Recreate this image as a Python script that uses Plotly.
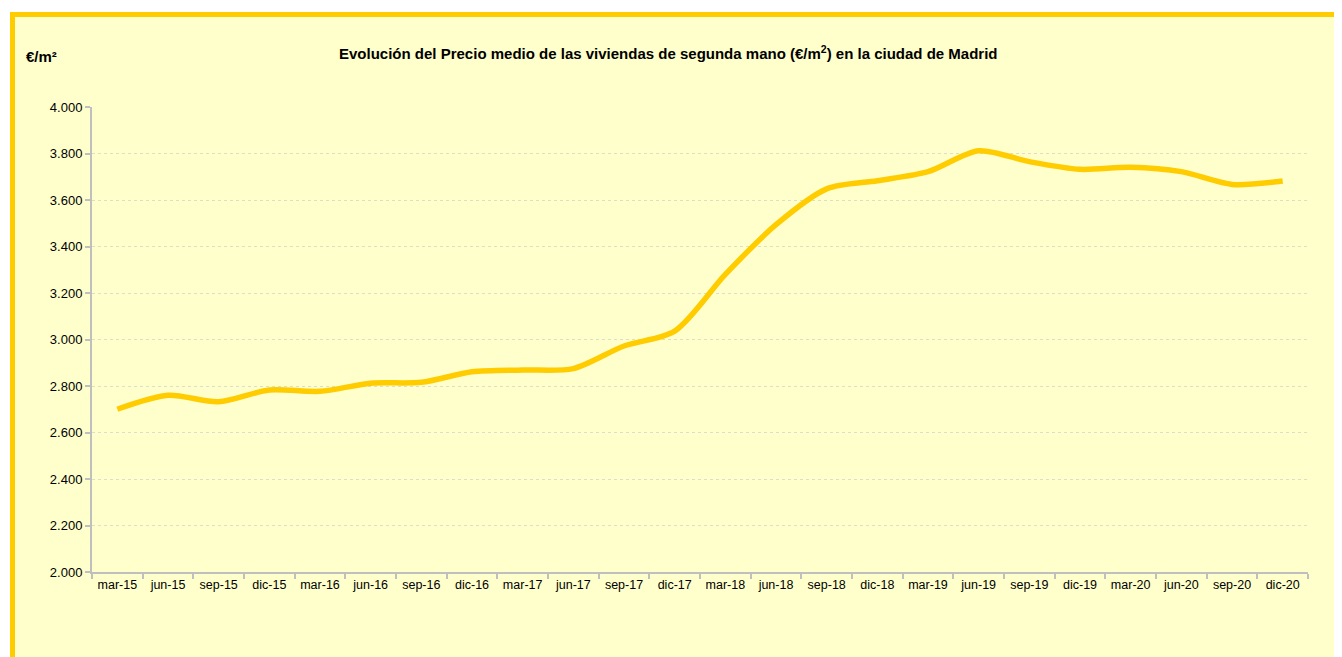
import plotly.graph_objects as go

categories = ["mar-15", "jun-15", "sep-15", "dic-15", "mar-16", "jun-16", "sep-16", "dic-16",
              "mar-17", "jun-17", "sep-17", "dic-17", "mar-18", "jun-18", "sep-18", "dic-18",
              "mar-19", "jun-19", "sep-19", "dic-19", "mar-20", "jun-20", "sep-20", "dic-20"]
precio = [2700, 2760, 2732, 2783, 2777, 2812, 2816, 2861, 2869, 2875, 2972, 3036,
          3280, 3494, 3648, 3683, 3722, 3812, 3765, 3732, 3741, 3722, 3667, 3682]
y_ticks = [2000, 2200, 2400, 2600, 2800, 3000, 3200, 3400, 3600, 3800, 4000]

OFF = 8  # page body margin
W, H = 1342 - OFF, 657 - OFF
# plot area edges in page pixels, converted to figure pixels
L, R, T, B = 92 - OFF, 1308 - OFF, 107 - OFF, 572 - OFF


def px(x):
    return (x - OFF - L) / (R - L)


def py(y):
    return (B - (y - OFF)) / (B - T)


fig = go.Figure()
fig.add_trace(go.Scatter(
    x=categories, y=precio, mode="lines",
    line=dict(color="#FFCC00", width=5.5, shape="spline", smoothing=0.8),
    hoverinfo="x+y", showlegend=False,
))

font = "Liberation Sans, Arial, sans-serif"
fig.update_layout(
    width=W, height=H,
    margin=dict(l=L, r=W - R, t=T, b=H - B, pad=0),
    paper_bgcolor="white",
    plot_bgcolor="rgba(0,0,0,0)",
    separators=",.",
    font=dict(family=font, size=12, color="#000000"),
    shapes=[dict(type="rect", xref="paper", yref="paper",
                 x0=px(12.5), x1=px(1420), y0=py(740), y1=py(14.5),
                 fillcolor="#FFFFCC", line=dict(color="#FFCC00", width=5),
                 layer="below")],
    annotations=[
        dict(text="<b>Evolución del Precio medio de las viviendas de segunda mano (€/m<sup>2</sup>) en la ciudad de Madrid</b>",
             xref="paper", yref="paper", x=px(668), y=py(53), xanchor="center", yanchor="middle",
             showarrow=False, font=dict(family=font, size=15, color="#000000")),
        dict(text="<b>€/m²</b>", xref="paper", yref="paper", x=px(24), y=py(56),
             xanchor="left", yanchor="middle", showarrow=False,
             font=dict(family=font, size=15, color="#000000")),
    ],
)
fig.update_xaxes(
    type="category", range=[-0.5, len(categories) - 0.5],
    tickson="boundaries", ticks="outside", ticklen=5, tickwidth=2, tickcolor="#BFBFBF",
    showline=True, linecolor="#BFBFBF", linewidth=2,
    showgrid=False, zeroline=False,
    tickfont=dict(family=font, size=12.5, color="#000000"),
)
fig.update_yaxes(
    range=[2000, 4000], tickvals=y_ticks, tickformat=",d",
    ticks="outside", ticklen=5, tickwidth=2, tickcolor="#BFBFBF",
    showline=True, linecolor="#BFBFBF", linewidth=2,
    showgrid=True, gridcolor="#DDDDCC", gridwidth=1, griddash="dot",
    zeroline=False,
    tickfont=dict(family=font, size=13, color="#000000"),
)

fig.write_html("out.html")
